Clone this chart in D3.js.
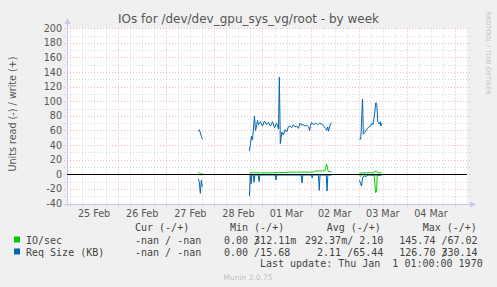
<!DOCTYPE html>
<html><head><meta charset="utf-8">
<script src="https://cdn.jsdelivr.net/npm/d3@7/dist/d3.min.js"></script>
<style>body{margin:0;background:#f0f0f0}svg{display:block}.pre{white-space:pre}</style>
</head><body><svg id="c" width="497" height="287"></svg>
<script>
// ---------- data ----------
const title = "IOs for /dev/dev_gpu_sys_vg/root - by week";
const yAxisLabel = "Units read (-) / write (+)";
const yTickValues = [-40, -20, 0, 20, 40, 60, 80, 100, 120, 140, 160, 180, 200];
const xDayLabels = ["25 Feb", "26 Feb", "27 Feb", "28 Feb", "01 Mar", "02 Mar", "03 Mar", "04 Mar"];
// time points are hours after 25 Feb 00:00 (UTC); null value = gap
const ioWrite = [[64,2.5],[64.5,2],[65,1],[65.5,0.5],[66,0.5],[66.5,null],
  [89.5,2],[92,2],[95,2],[98,2],[101,2],[104,2.5],[107,2.5],[110,3],[113,3],[116,3],[119,3],[121.5,3],[122,4.5],[126,4.5],[127,5],[127.5,9],[128,14],[128.5,7],[129,3.5],[130.5,3.5],[131,null],
  [144.4,1.5],[146,2],[148,2],[150,2],[151.5,2],[152,4],[153,4],[153.5,2],[155.5,2]];
const ioRead = [[64,-0.5],[66,-0.5],[66.5,null],
  [89.5,-0.3],[130.5,-0.3],[131,null],
  [144.4,-1],[144.9,-3],[145.4,-1],[146,-0.5],[151.6,-1],[152,-10],[152.4,-25],[152.9,-24],[153.2,-2],[155.5,-0.5]];
const reqWrite = [[64,59],[64.5,61],[65,57],[65.5,52],[66,48],[66.5,null],
  [89.5,32],[90,42],[90.5,52],[91,47],[91.5,62],[92,80],[92.5,60],[93,65],[93.5,74],[94,68],[95,72],[96,66],[97,73],[98,68],[99,71],[100,66],[101,72],[102,64],[103,70],[103.5,66],[104,62],[104.4,133],[104.9,42],[105.7,58],[106.4,54],[107.2,61],[108.1,58],[108.9,65],[109.7,66],[110.6,64],[111.4,68],[112.2,65],[113.1,66],[113.9,63],[114.7,70],[115.5,67],[116,69],[117,66],[118,67],[119,65],[119.5,60],[120,67],[120.5,71],[121.5,68],[122.5,70],[123.5,68],[124.5,70],[125.5,69],[126.5,66],[127.5,63],[128,60],[128.5,65],[129,59],[129.5,66],[130,69],[130.5,71],[131,null],
  [144.6,47],[145.1,52],[145.9,103],[146.3,55],[146.9,57],[147.6,60],[148.4,63],[149.1,65],[149.9,66],[150.6,70],[151.1,68],[151.8,80],[152.5,98],[153,97],[153.5,72],[154.1,69],[154.8,72],[155.1,66],[155.5,70]];
const reqRead = [[64,-6],[64.5,-11],[65,-26],[65.5,-8],[66,-17],[66.5,null],
  [89.5,-30],[89.9,-1],[90.3,-13],[90.7,-1],[91.4,-1],[91.8,-11],[92.2,-1],[93.9,-1],[94.3,-10],[94.7,-1],[102.3,-1],[102.7,-8],[103.1,-1],[115.3,-1],[115.7,-12],[116.1,-1],[120.4,-1],[120.8,-5],[121.2,-1],[123.9,-1],[124.3,-22],[124.7,-1],[127.8,-1],[128.2,-23],[128.6,-1],[130.5,-1],[131,null],
  [144.4,-8],[144.9,-13],[145.4,-16],[145.9,-5],[146.6,-2],[147.6,-3],[148.6,-1],[155.5,-1]];
const legendHeaders = ["Cur (-/+)", "Min (-/+)", "Avg (-/+)", "Max (-/+)"];
const legendNames = ["IO/sec", "Req Size (KB)"];
const legendColors = ["#00cc00", "#0066b3"];
const legendCur = ["-nan / -nan", "-nan / -nan"];
const legendMin = [["0.00 /", "312.11m"], ["0.00 /15.68", ""]];
const legendAvg = ["292.37m/ 2.10", "2.11 /65.44"];
const legendMax = [["145.74 /67.02", ""], ["126.70 /", "330.14"]];
const lastUpdate = "Last update: Thu Jan  1 01:00:00 1970";
const footer = "Munin 2.0.75";
const watermark = "RRDTOOL / TOBI OETIKER";

// ---------- drawing ----------
const W = 497, H = 287;
const base = Date.UTC(2025, 1, 25);
const t = h => new Date(base + h * 3600e3);
const svg = d3.select("#c");
const x = d3.scaleUtc().domain([new Date(Date.UTC(2025,1,24,22,30)), new Date(Date.UTC(2025,2,5,6,0))]).range([67, 467]);
const y = d3.scaleLinear().domain([-40, 200]).range([203.5, 28.3]);
const px = v => Math.round(v) + 0.5;
const X0 = 67, X1 = 467;

svg.append("rect").attr("width", W).attr("height", H).attr("fill", "#f0f0f0");
svg.append("rect").attr("x", X0).attr("y", y(200)).attr("width", X1 - X0).attr("height", y(-40) - y(200)).attr("fill", "#ffffff");

const grid = svg.append("g");
const majCol = "rgba(225,120,120,0.5)", minCol = "rgba(150,150,150,0.38)";
d3.range(-40, 201, 10).forEach(v => {
  const major = v % 20 === 0;
  grid.append("line").attr("x1", X0 - 3).attr("x2", X1 + 3).attr("y1", px(y(v))).attr("y2", px(y(v)))
    .attr("stroke", major ? majCol : minCol).attr("stroke-dasharray", "1,2").attr("stroke-width", 1);
});
d3.utcHour.every(6).range(x.domain()[0], x.domain()[1]).forEach(d => {
  const major = d.getUTCHours() === 0;
  grid.append("line").attr("y1", y(200)).attr("y2", y(-40) + 3).attr("x1", px(x(d))).attr("x2", px(x(d)))
    .attr("stroke", major ? majCol : minCol).attr("stroke-dasharray", "1,2").attr("stroke-width", 1);
});

// axes
const axisCol = "#c8c8f0";
svg.append("line").attr("x1", px(X0)).attr("x2", px(X0)).attr("y1", y(-40) + 3).attr("y2", 22).attr("stroke", axisCol);
svg.append("path").attr("d", `M${px(X0)-3},24 L${px(X0)+3},24 L${px(X0)},18 Z`).attr("fill", axisCol);
svg.append("line").attr("x1", X0 - 3).attr("x2", 472).attr("y1", px(y(-40))).attr("y2", px(y(-40))).attr("stroke", axisCol);
svg.append("path").attr("d", `M470,${px(y(-40))-3} L470,${px(y(-40))+3} L476,${px(y(-40))} Z`).attr("fill", axisCol);

// tick labels
const tickFont = "DejaVu Sans, sans-serif";
svg.append("g").selectAll("text").data(yTickValues).join("text")
  .attr("x", 62).attr("y", d => y(d) + 3.5).attr("text-anchor", "end")
  .attr("font-family", tickFont).attr("font-size", 9.6).attr("fill", "#555").text(d => d);
const days = d3.utcDay.range(t(0), t(8 * 24));
svg.append("g").selectAll("text").data(days).join("text")
  .attr("x", d => x(new Date(+d + 12 * 3600e3))).attr("y", 217).attr("text-anchor", "middle")
  .attr("font-family", tickFont).attr("font-size", 9.6).attr("fill", "#555")
  .text((d, i) => xDayLabels[i]);

// title & axis label
svg.append("text").attr("x", 248.5).attr("y", 23).attr("text-anchor", "middle")
  .attr("font-family", tickFont).attr("font-size", 12).attr("fill", "#555").text(title);
svg.append("text").attr("transform", "translate(15.5,114) rotate(-90)").attr("text-anchor", "middle")
  .attr("font-family", tickFont).attr("font-size", 9.6).attr("fill", "#555").text(yAxisLabel);
svg.append("text").attr("transform", "translate(486,53) rotate(90)").attr("text-anchor", "middle")
  .attr("font-family", tickFont).attr("font-size", 6.5).attr("fill", "#c4c4c4").text(watermark);

// data lines
const line = d3.line().defined(d => d[1] !== null).x(d => x(t(d[0]))).y(d => y(d[1]));
[[ioRead, legendColors[0]], [ioWrite, legendColors[0]], [reqRead, legendColors[1]], [reqWrite, legendColors[1]]]
  .forEach(([data, col]) => {
    svg.append("path").datum(data).attr("d", line).attr("fill", "none").attr("stroke", col).attr("stroke-width", 1);
  });
svg.append("line").attr("x1", X0).attr("x2", X1).attr("y1", px(y(0))).attr("y2", px(y(0))).attr("stroke", "#000");

// legend
const mono = "DejaVu Sans Mono, monospace";
const lg = svg.append("g").attr("font-family", mono).attr("font-size", 10).attr("fill", "#444");
const T = (xx, yy) => lg.append("text").attr("class", "pre").attr("xml:space", "preserve").attr("x", xx).attr("y", yy);
const hx = [135, 230, 326.7, 422.7];
legendHeaders.forEach((s, i) => T(hx[i], 230.5).text(s));
const rowY = [243.5, 255.5];
const charW = 6.02;
function overlapText(x0, yy, a, b) {
  // rrdtool-style: second part right-aligned so it overlaps the slash of the first part
  const tx = T(x0, yy);
  tx.append("tspan").text(a);
  if (b) tx.append("tspan").attr("dx", -charW).text(b);
}
legendNames.forEach((n, i) => {
  lg.append("rect").attr("x", 14).attr("y", rowY[i] - 7).attr("width", 6).attr("height", 6).attr("fill", legendColors[i]);
  T(26, rowY[i]).text(n);
  T(135, rowY[i]).text(legendCur[i]);
  overlapText(224, rowY[i], legendMin[i][0], legendMin[i][1]);
  T(383.3, rowY[i]).attr("text-anchor", "end").text(legendAvg[i]);
  overlapText(399.3, rowY[i], legendMax[i][0], legendMax[i][1]);
});
T(482.7, 267).attr("text-anchor", "end").text(lastUpdate);
svg.append("text").attr("x", 248).attr("y", 279.5).attr("text-anchor", "middle")
  .attr("font-family", tickFont).attr("font-size", 7.5).attr("fill", "#c0c0c0").text(footer);
</script></body></html>
